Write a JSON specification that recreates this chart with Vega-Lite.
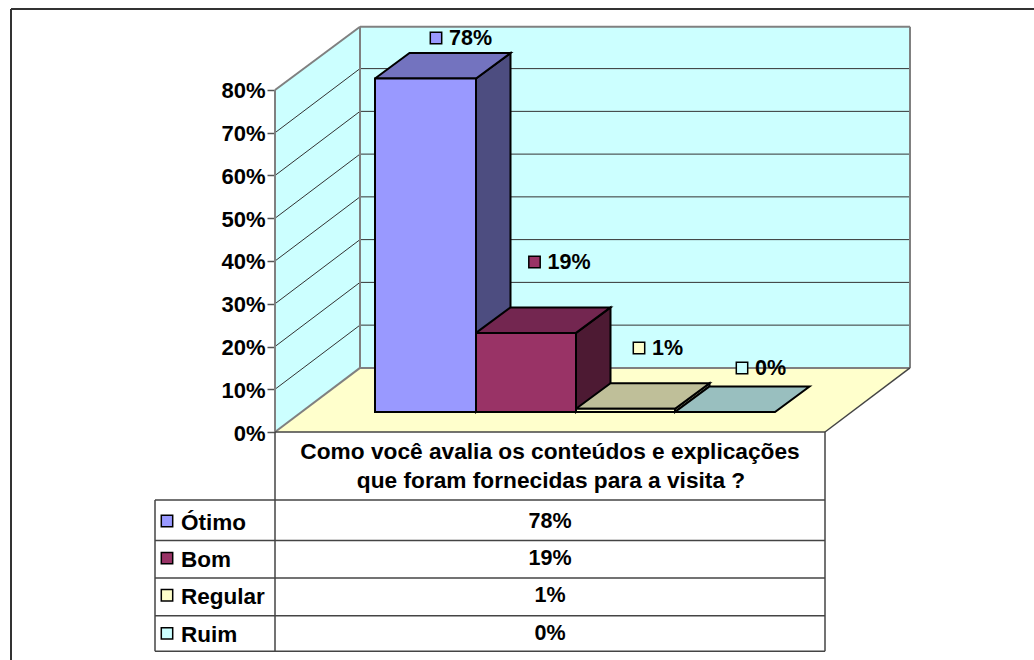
{"$schema":"https://vega.github.io/schema/vega-lite/v6.json","width":1034,"height":660,"padding":0,"autosize":{"type":"none"},"background":"white","view":{"stroke":null},
"datasets":{
"barras":[
{"categoria":"Ótimo","valor":78,"rotulo":"78%","inicio":1,"fim":2.01,"pos":1.61,"pct":92.16,"linha":-20.8},
{"categoria":"Bom","valor":18.5,"rotulo":"19%","inicio":2.01,"fim":3.01,"pos":2.595,"pct":39.77,"linha":-29.5},
{"categoria":"Regular","valor":0.75,"rotulo":"1%","inicio":3.01,"fim":4,"pos":3.64,"pct":19.65,"linha":-38.2},
{"categoria":"Ruim","valor":0,"rotulo":"0%","inicio":4,"fim":5,"pos":4.67,"pct":14.97,"linha":-47.1}],
"fundo":[
{"face":"parede lateral","ordem":1,"pos":0,"pct":0},{"face":"parede lateral","ordem":2,"pos":0.85,"pct":15},{"face":"parede lateral","ordem":3,"pos":0.85,"pct":94.8},{"face":"parede lateral","ordem":4,"pos":0,"pct":80},{"face":"parede lateral","ordem":5,"pos":0,"pct":0},
{"face":"parede fundo","ordem":1,"pos":0.85,"pct":15},{"face":"parede fundo","ordem":2,"pos":6.35,"pct":15},{"face":"parede fundo","ordem":3,"pos":6.35,"pct":94.8},{"face":"parede fundo","ordem":4,"pos":0.85,"pct":94.8},{"face":"parede fundo","ordem":5,"pos":0.85,"pct":15},
{"face":"piso","ordem":1,"pos":0,"pct":0},{"face":"piso","ordem":2,"pos":5.5,"pct":0},{"face":"piso","ordem":3,"pos":6.35,"pct":15},{"face":"piso","ordem":4,"pos":0.85,"pct":15},{"face":"piso","ordem":5,"pos":0,"pct":0}],
"grade":[
{"nivel":10,"ordem":1,"pos":0,"pct":10},{"nivel":10,"ordem":2,"pos":0.85,"pct":25},{"nivel":10,"ordem":3,"pos":6.35,"pct":25},
{"nivel":20,"ordem":1,"pos":0,"pct":20},{"nivel":20,"ordem":2,"pos":0.85,"pct":35},{"nivel":20,"ordem":3,"pos":6.35,"pct":35},
{"nivel":30,"ordem":1,"pos":0,"pct":30},{"nivel":30,"ordem":2,"pos":0.85,"pct":45},{"nivel":30,"ordem":3,"pos":6.35,"pct":45},
{"nivel":40,"ordem":1,"pos":0,"pct":40},{"nivel":40,"ordem":2,"pos":0.85,"pct":55},{"nivel":40,"ordem":3,"pos":6.35,"pct":55},
{"nivel":50,"ordem":1,"pos":0,"pct":50},{"nivel":50,"ordem":2,"pos":0.85,"pct":65},{"nivel":50,"ordem":3,"pos":6.35,"pct":65},
{"nivel":60,"ordem":1,"pos":0,"pct":60},{"nivel":60,"ordem":2,"pos":0.85,"pct":75},{"nivel":60,"ordem":3,"pos":6.35,"pct":75},
{"nivel":70,"ordem":1,"pos":0,"pct":70},{"nivel":70,"ordem":2,"pos":0.85,"pct":85},{"nivel":70,"ordem":3,"pos":6.35,"pct":85}],
"contorno":[
{"nome":"a","pos":0,"pos2":0.85,"pct":0,"pct2":15},
{"nome":"b","pos":0.85,"pos2":6.35,"pct":15,"pct2":15},
{"nome":"c","pos":0.85,"pos2":0.85,"pct":15,"pct2":94.8},
{"nome":"d","pos":0,"pos2":0.85,"pct":80,"pct2":94.8},
{"nome":"e","pos":0.85,"pos2":6.35,"pct":94.8,"pct2":94.8},
{"nome":"f","pos":6.35,"pos2":6.35,"pct":15,"pct2":94.8},
{"nome":"g","pos":0,"pos2":0,"pct":0,"pct2":80}],
"faces":[
{"face":"Ótimo lado","ordem":1,"pos":2.01,"pct":82.68},{"face":"Ótimo lado","ordem":2,"pos":2.355,"pct":88.64},{"face":"Ótimo lado","ordem":3,"pos":2.355,"pct":10.64},{"face":"Ótimo lado","ordem":4,"pos":2.01,"pct":4.68},{"face":"Ótimo lado","ordem":5,"pos":2.01,"pct":82.68},
{"face":"Ótimo topo","ordem":1,"pos":1,"pct":82.68},{"face":"Ótimo topo","ordem":2,"pos":2.01,"pct":82.68},{"face":"Ótimo topo","ordem":3,"pos":2.355,"pct":88.64},{"face":"Ótimo topo","ordem":4,"pos":1.345,"pct":88.64},{"face":"Ótimo topo","ordem":5,"pos":1,"pct":82.68},
{"face":"Bom lado","ordem":1,"pos":3.01,"pct":23.18},{"face":"Bom lado","ordem":2,"pos":3.355,"pct":29.14},{"face":"Bom lado","ordem":3,"pos":3.355,"pct":10.64},{"face":"Bom lado","ordem":4,"pos":3.01,"pct":4.68},{"face":"Bom lado","ordem":5,"pos":3.01,"pct":23.18},
{"face":"Bom topo","ordem":1,"pos":2.01,"pct":23.18},{"face":"Bom topo","ordem":2,"pos":3.01,"pct":23.18},{"face":"Bom topo","ordem":3,"pos":3.355,"pct":29.14},{"face":"Bom topo","ordem":4,"pos":2.355,"pct":29.14},{"face":"Bom topo","ordem":5,"pos":2.01,"pct":23.18},
{"face":"Regular lado","ordem":1,"pos":4,"pct":5.43},{"face":"Regular lado","ordem":2,"pos":4.345,"pct":11.39},{"face":"Regular lado","ordem":3,"pos":4.345,"pct":10.64},{"face":"Regular lado","ordem":4,"pos":4,"pct":4.68},{"face":"Regular lado","ordem":5,"pos":4,"pct":5.43},
{"face":"Regular topo","ordem":1,"pos":3.01,"pct":5.43},{"face":"Regular topo","ordem":2,"pos":4,"pct":5.43},{"face":"Regular topo","ordem":3,"pos":4.345,"pct":11.39},{"face":"Regular topo","ordem":4,"pos":3.355,"pct":11.39},{"face":"Regular topo","ordem":5,"pos":3.01,"pct":5.43},
{"face":"Ruim topo","ordem":1,"pos":4,"pct":4.68},{"face":"Ruim topo","ordem":2,"pos":5,"pct":4.68},{"face":"Ruim topo","ordem":3,"pos":5.345,"pct":10.64},{"face":"Ruim topo","ordem":4,"pos":4.345,"pct":10.64},{"face":"Ruim topo","ordem":5,"pos":4,"pct":4.68}],
"tabela":[
{"nome":"base","pos":0,"pos2":5.5,"pct":0,"pct2":0},
{"nome":"h0","pos":-1.2,"pos2":5.5,"pct":-15.91,"pct2":-15.91},
{"nome":"h1","pos":-1.2,"pos2":5.5,"pct":-25.38,"pct2":-25.38},
{"nome":"h2","pos":-1.2,"pos2":5.5,"pct":-34.15,"pct2":-34.15},
{"nome":"h3","pos":-1.2,"pos2":5.5,"pct":-42.97,"pct2":-42.97},
{"nome":"h4","pos":-1.2,"pos2":5.5,"pct":-51.3,"pct2":-51.3},
{"nome":"v0","pos":-1.2,"pos2":-1.2,"pct":-15.91,"pct2":-51.3},
{"nome":"v1","pos":0,"pos2":0,"pct":0,"pct2":-51.3},
{"nome":"v2","pos":5.5,"pos2":5.5,"pct":0,"pct2":-51.3},
{"nome":"diag","pos":5.5,"pos2":6.35,"pct":0,"pct2":15}],
"moldura":[
{"nome":"esquerda","pos":-2.64,"pos2":-2.64,"pct":98.95,"pct2":-53.33},
{"nome":"topo","pos":-2.64,"pos2":7.59,"pct":98.95,"pct2":98.95}],
"titulo":[
{"texto":"Como você avalia os conteúdos e explicações","pos":2.75,"pct":-4.44},
{"texto":"que foram  fornecidas para a visita ?","pos":2.76,"pct":-11.23}]
},
"encoding":{
"x":{"field":"pos","type":"quantitative","scale":{"domain":[-2.75,7.59],"nice":false,"zero":false},"axis":null},
"y":{"field":"pct","type":"quantitative","scale":{"domain":[-53.33,101.05],"nice":false,"zero":false},"axis":{"title":null,"values":[0,10,20,30,40,50,60,70,80],"labelExpr":"datum.value + '%'","offset":-275,"domain":false,"grid":false,"ticks":true,"tickSize":8,"tickColor":"#555555","tickWidth":1.5,"labelFont":"Liberation Sans","labelFontWeight":"bold","labelFontSize":22,"labelColor":"#000000","labelPadding":2,"labelOffset":1}}
},
"resolve":{"scale":{"fill":"independent"}},
"layer":[
{"data":{"name":"fundo"},"mark":{"type":"line","strokeWidth":0},"encoding":{"fill":{"field":"face","type":"nominal","scale":{"domain":["parede lateral","parede fundo","piso"],"range":["#CCFFFF","#CCFFFF","#FFFFCC"]},"legend":null},"detail":{"field":"face"},"order":{"field":"ordem"}}},
{"data":{"name":"grade"},"mark":{"type":"line","stroke":"#333333","strokeWidth":1},"encoding":{"detail":{"field":"nivel"},"order":{"field":"ordem"}}},
{"data":{"name":"contorno"},"mark":{"type":"rule","stroke":"#808080","strokeWidth":2},"encoding":{"x2":{"field":"pos2"},"y2":{"field":"pct2"}}},
{"data":{"name":"faces"},"mark":{"type":"line","stroke":"#000000","strokeWidth":2,"strokeJoin":"miter"},"encoding":{"fill":{"field":"face","type":"nominal","scale":{"domain":["Ótimo lado","Ótimo topo","Bom lado","Bom topo","Regular lado","Regular topo","Ruim topo"],"range":["#4D4D80","#7373BF","#4D1A33","#732650","#808066","#BFBF99","#99BFBF"]},"legend":null},"detail":{"field":"face"},"order":{"field":"ordem"}}},
{"data":{"name":"barras"},"mark":{"type":"rect","stroke":"#000000","strokeWidth":2,"yOffset":-20,"y2Offset":-20},"encoding":{"x":{"field":"inicio","type":"quantitative"},"x2":{"field":"fim"},"y":{"field":"valor","type":"quantitative"},"y2":{"datum":0},"fill":{"field":"categoria","type":"nominal","scale":{"domain":["Ótimo","Bom","Regular","Ruim"],"range":["#9999FF","#993366","#FFFFCC","#CCFFFF"]},"legend":null}}},
{"data":{"name":"tabela"},"mark":{"type":"rule","stroke":"#444444","strokeWidth":1.5},"encoding":{"x2":{"field":"pos2"},"y2":{"field":"pct2"}}},
{"data":{"name":"moldura"},"mark":{"type":"rule","stroke":"#333333","strokeWidth":2},"encoding":{"x2":{"field":"pos2"},"y2":{"field":"pct2"}}},
{"data":{"name":"barras"},"mark":{"type":"point","shape":"square","size":130,"filled":true,"opacity":1,"stroke":"#000000","strokeWidth":1.5},"encoding":{"fill":{"field":"categoria","type":"nominal","scale":{"domain":["Ótimo","Bom","Regular","Ruim"],"range":["#9999FF","#993366","#FFFFCC","#CCFFFF"]},"legend":null}}},
{"data":{"name":"barras"},"mark":{"type":"text","font":"Liberation Sans","fontWeight":"bold","fontSize":21.5,"align":"left","baseline":"middle","dx":13,"dy":1,"fill":"#000000"},"encoding":{"text":{"field":"rotulo"}}},
{"data":{"name":"titulo"},"mark":{"type":"text","font":"Liberation Sans","fontWeight":"bold","fontSize":22.7,"align":"center","baseline":"middle","dy":1,"fill":"#000000"},"encoding":{"text":{"field":"texto"}}},
{"data":{"name":"barras"},"mark":{"type":"text","font":"Liberation Sans","fontWeight":"bold","fontSize":21.5,"align":"center","baseline":"middle","dy":1,"fill":"#000000"},"encoding":{"x":{"datum":2.75,"type":"quantitative"},"y":{"field":"linha","type":"quantitative"},"text":{"field":"rotulo"}}},
{"data":{"name":"barras"},"mark":{"type":"point","shape":"square","size":130,"filled":true,"opacity":1,"stroke":"#000000","strokeWidth":1.5},"encoding":{"x":{"datum":-1.08,"type":"quantitative"},"y":{"field":"linha","type":"quantitative"},"fill":{"field":"categoria","type":"nominal","scale":{"domain":["Ótimo","Bom","Regular","Ruim"],"range":["#9999FF","#993366","#FFFFCC","#CCFFFF"]},"legend":null}}},
{"data":{"name":"barras"},"mark":{"type":"text","font":"Liberation Sans","fontWeight":"bold","fontSize":22.5,"align":"left","baseline":"middle","dx":14,"dy":2,"fill":"#000000"},"encoding":{"x":{"datum":-1.08,"type":"quantitative"},"y":{"field":"linha","type":"quantitative"},"text":{"field":"categoria"}}}
]}
